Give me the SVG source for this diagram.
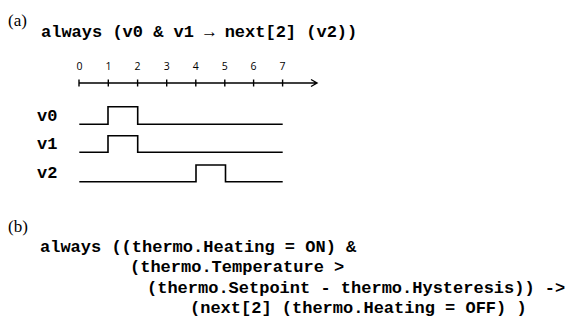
<svg xmlns="http://www.w3.org/2000/svg" width="579" height="325" viewBox="0 0 579 325">
<style>
.lbl{font-family:"Liberation Serif","Times New Roman",serif;font-size:17px;fill:#000}
.code{font-family:"Liberation Mono","Courier New",monospace;font-weight:bold;font-size:17px;fill:#000;white-space:pre}
.tick{font-family:"Open Sans","Liberation Sans",sans-serif;font-size:10.5px;fill:#000;text-anchor:middle}
.sig{fill:none;stroke:#000;stroke-width:1.6}
.ax{fill:none;stroke:#000;stroke-width:1.4}
</style>
<rect width="579" height="325" fill="#fff"/>
<g id="part-a">
<text class="lbl" x="8" y="26">(a)</text>
<text class="code" x="41" y="37" xml:space="preserve">always (v0 &amp; v1 → next[2] (v2))</text>
</g>
<g id="axis">
<path class="ax" d="M79 83 H317 M311 79.5 L317 83 L311 86.5"/>
<path class="ax" stroke-width="1.6" d="M79 79.5 V86.5 M108.3 79.5 V86.5 M137.6 79.5 V86.5 M166.7 79.5 V86.5 M195.8 79.5 V86.5 M224.8 79.5 V86.5 M253.6 79.5 V86.5 M282.6 79.5 V86.5"/>
<text class="tick" x="79.5" y="69.5">0</text>
<text class="tick" x="108.5" y="69.5">1</text>
<text class="tick" x="137.6" y="69.5">2</text>
<text class="tick" x="166.7" y="69.5">3</text>
<text class="tick" x="195.8" y="69.5">4</text>
<text class="tick" x="224.8" y="69.5">5</text>
<text class="tick" x="253.6" y="69.5">6</text>
<text class="tick" x="282.6" y="69.5">7</text>
</g>
<g id="v0">
<text class="code" x="37" y="121">v0</text>
<path class="sig" d="M79.3 124.3 H108 V106.7 H137.7 V124.3 H282.7"/>
</g>
<g id="v1">
<text class="code" x="37" y="149">v1</text>
<path class="sig" d="M79.3 152.3 H108 V135.7 H137.7 V152.3 H282.7"/>
</g>
<g id="v2">
<text class="code" x="37" y="177.5">v2</text>
<path class="sig" d="M79.3 181.7 H196 V165 H225.5 V181.7 H282.7"/>
</g>
<g id="part-b">
<text class="lbl" x="8" y="232">(b)</text>
<text class="code" x="40" y="251.5" xml:space="preserve">always ((thermo.Heating = ON) &amp;</text>
<text class="code" x="130" y="272" xml:space="preserve">(thermo.Temperature &gt;</text>
<text class="code" x="147" y="292.5" xml:space="preserve">(thermo.Setpoint - thermo.Hysteresis)) -&gt;</text>
<text class="code" x="190" y="313" xml:space="preserve">(next[2] (thermo.Heating = OFF) )</text>
</g>
</svg>
